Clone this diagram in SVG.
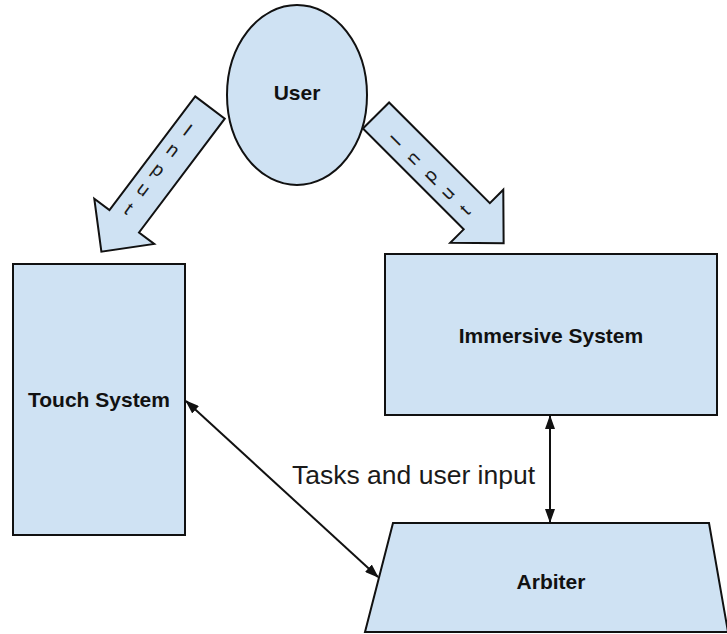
<svg xmlns="http://www.w3.org/2000/svg" width="727" height="634" viewBox="0 0 727 634">
  <style>
    .shape { fill: #cfe2f3; stroke: #111; stroke-width: 2; stroke-linejoin: miter; }
    .label { font-family: "Liberation Sans", Arial, sans-serif; font-weight: bold; font-size: 21px; fill: #111; text-anchor: middle; }
    .arrow-text { font-family: "Liberation Sans", Arial, sans-serif; font-size: 19px; fill: #1a1a1a; text-anchor: middle; }
    .edge { stroke: #111; stroke-width: 2; fill: none; marker-start: url(#head); marker-end: url(#head); }
    .edge-label { font-family: "Liberation Sans", Arial, sans-serif; font-size: 26.5px; fill: #1a1a1a; }
  </style>
  <defs>
    <marker id="head" viewBox="0 0 14 10" refX="13" refY="5" markerWidth="14" markerHeight="10" markerUnits="userSpaceOnUse" orient="auto-start-reverse">
      <path d="M0,0 L14,5 L0,10 z" fill="#111"/>
    </marker>
    <!-- block arrow pointing down, origin at the centre of its tail -->
    <polygon id="block-arrow" points="-18.5,0 18.5,0 18.5,142.5 37.5,142.5 0,180.5 -37.5,142.5 -18.5,142.5"/>
  </defs>
  <rect width="727" height="634" fill="#ffffff"/>

  <g id="user">
    <ellipse class="shape" cx="297" cy="95" rx="70" ry="90"/>
    <text class="label" x="297" y="100">User</text>
  </g>

  <g id="input-left" transform="translate(210,107.5) rotate(37)">
    <use href="#block-arrow" class="shape"/>
    <text class="arrow-text" x="-4" y="38">I<tspan x="-4" dy="24.5">n</tspan><tspan x="-4" dy="24.5">p</tspan><tspan x="-4" dy="24.5">u</tspan><tspan x="-4" dy="24.5">t</tspan></text>
  </g>

  <g id="input-right" transform="translate(376,115.5) rotate(-45)">
    <use href="#block-arrow" class="shape"/>
    <text class="arrow-text" x="-4" y="38">I<tspan x="-4" dy="24.5">n</tspan><tspan x="-4" dy="24.5">p</tspan><tspan x="-4" dy="24.5">u</tspan><tspan x="-4" dy="24.5">t</tspan></text>
  </g>

  <g id="touch-system">
    <rect class="shape" x="13" y="264" width="172" height="271"/>
    <text class="label" x="99" y="407">Touch System</text>
  </g>

  <g id="immersive-system">
    <rect class="shape" x="385" y="254" width="332" height="161"/>
    <text class="label" x="551" y="343">Immersive System</text>
  </g>

  <g id="arbiter">
    <polygon class="shape" points="393,523 709,523 728,632 365,632"/>
    <text class="label" x="551" y="589">Arbiter</text>
  </g>

  <g id="connectors">
    <line class="edge" x1="186" y1="401" x2="378" y2="577"/>
    <line class="edge" x1="550" y1="416" x2="550" y2="522"/>
    <text class="edge-label" x="292" y="484">Tasks and user input</text>
  </g>
</svg>
